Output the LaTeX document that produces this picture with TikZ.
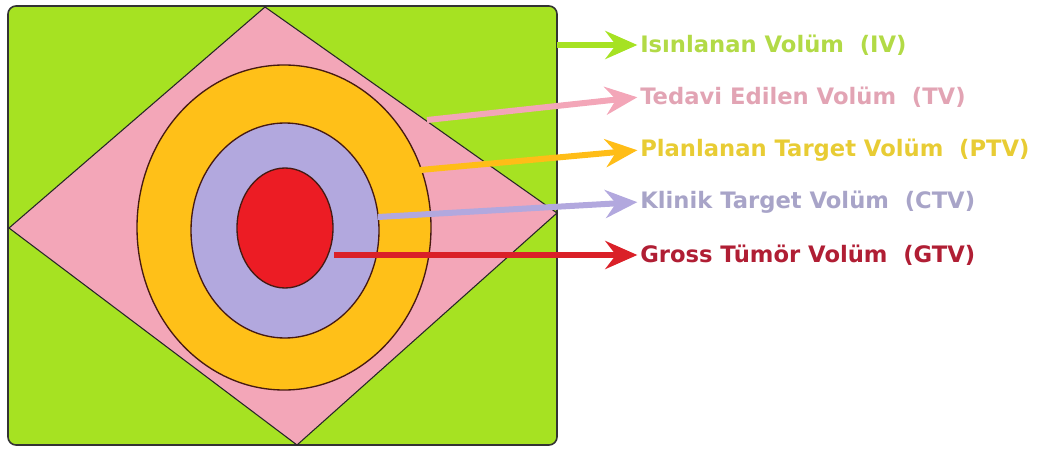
\documentclass[tikz,border=0pt]{standalone}
\usepackage{fontspec}
\setmainfont{DejaVu Sans}
\usetikzlibrary{arrows.meta}
\definecolor{ivgreen}{RGB}{166,226,34}
\definecolor{tvpink}{RGB}{243,166,184}
\definecolor{ptvyellow}{RGB}{255,192,24}
\definecolor{ctvlilac}{RGB}{178,168,222}
\definecolor{gtvred}{RGB}{236,28,36}
\definecolor{ringline}{RGB}{70,26,18}
\definecolor{ivtext}{RGB}{178,218,70}
\definecolor{tvtext}{RGB}{226,164,180}
\definecolor{ptvtext}{RGB}{232,204,52}
\definecolor{ctvtext}{RGB}{168,164,200}
\definecolor{gtvtext}{RGB}{176,30,52}
\definecolor{gtvarrow}{RGB}{218,32,40}
\tikzset{
  volarrow/.style={line width=4.5pt,-{Stealth[length=24pt,width=21pt,inset=8pt]},shorten >=2pt},
  vollabel/.style={anchor=west,inner sep=0pt,font=\bfseries\fontsize{17}{19}\selectfont},
  ring/.style={draw=ringline,line width=1pt}
}
\begin{document}
\begin{tikzpicture}[x=0.75pt,y=-0.75pt]
\useasboundingbox (0,0) rectangle (1038,449);
% irradiated field
\draw[fill=ivgreen,draw=black!80,line width=1.2pt,rounded corners=6pt] (8,6) rectangle (557,445);
% treated volume
\draw[fill=tvpink,draw=black!85,line width=0.8pt] (265,7) -- (557,213) -- (297,445) -- (9,228) -- cycle;
% target rings
\draw[ring,fill=ptvyellow] (284,227.5) ellipse [x radius=147,y radius=162.5];
\draw[ring,fill=ctvlilac] (285,230.5) ellipse [x radius=94,y radius=107.5];
\draw[ring,fill=gtvred] (285,228) ellipse [x radius=48,y radius=60];

% labels
\node[vollabel,text=ivtext] (lIV) at (640,45) {Isınlanan Volüm~~(IV)};
\node[vollabel,text=tvtext] (lTV) at (640,97) {Tedavi Edilen Volüm~~(TV)};
\node[vollabel,text=ptvtext] (lPTV) at (640,150) {Planlanan Target Volüm~~(PTV)};
\node[vollabel,text=ctvtext] (lCTV) at (640,202) {Klinik Target Volüm~~(CTV)};
\node[vollabel,text=gtvtext] (lGTV) at (640,255) {Gross Tümör Volüm~~(GTV)};

\coordinate (sIV) at (557,45);
\coordinate (sTV) at (427,120);
\coordinate (sPTV) at (420,170);
\coordinate (sCTV) at (378,217);
\coordinate (sGTV) at (334,255);

\draw[volarrow,ivgreen] (sIV) -- (lIV.west);
\draw[volarrow,tvpink] (sTV) -- (lTV.west);
\draw[volarrow,ptvyellow!95!orange] (sPTV) -- (lPTV.west);
\draw[volarrow,ctvlilac] (sCTV) -- (lCTV.west);
\draw[volarrow,gtvarrow] (sGTV) -- (lGTV.west);
\end{tikzpicture}
\end{document}
